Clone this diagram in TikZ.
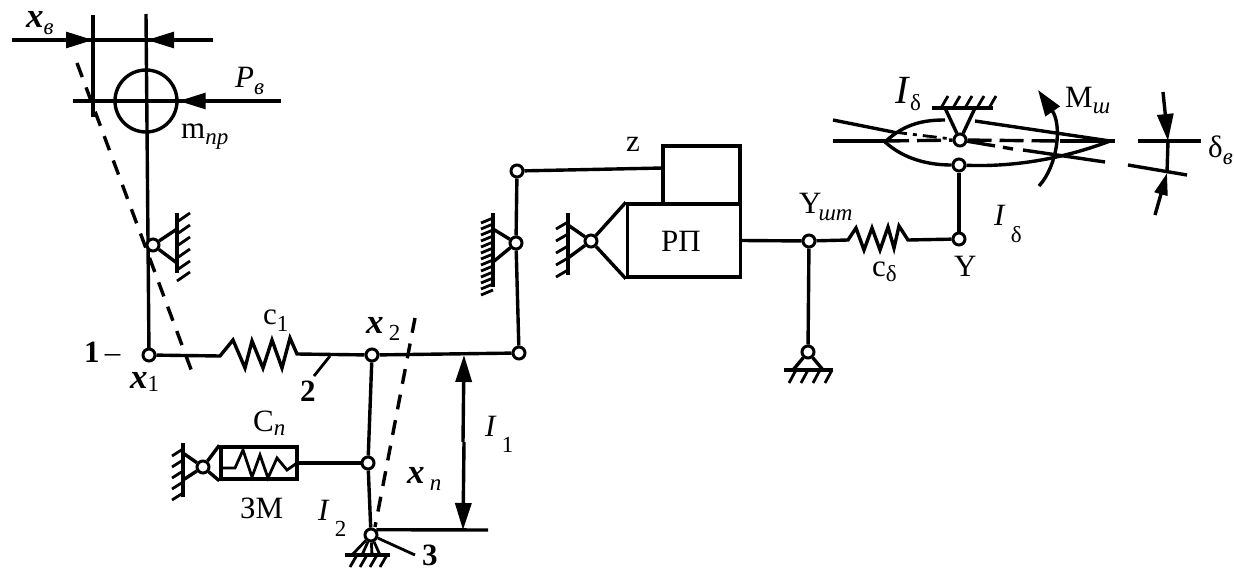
\documentclass[tikz,border=0pt]{standalone}
\usepackage{fontspec}
\setmainfont{Liberation Serif}
\usetikzlibrary{arrows.meta}
\newcommand{\lowsub}[2]{\raisebox{-#1pt}{\fontsize{23}{23}\selectfont #2}}
\newcommand{\xvar}{{\fontsize{35}{35}\selectfont\textbf{\textit{x}}}}
\tikzset{
	link/.style={line width=3.4pt},
	thinlink/.style={line width=2.8pt},
	dashlink/.style={line width=3.4pt, dash pattern=on 15pt off 11pt},
	hinge/.style={circle, draw, line width=3pt, fill=white, minimum size=12pt, inner sep=0pt},
	lab/.style={anchor=base west, inner sep=0pt, font=\fontsize{31}{31}\selectfont},
	tip/.style={-{Triangle[length=27pt, width=16pt]}}
}
\begin{document}
\begin{tikzpicture}[x=1pt, y=-1pt]
	\useasboundingbox (0,0) rectangle (1234,573);

	% mass and its rod
	\coordinate (masstop) at (146,14);
	\node[circle, draw, line width=3.4pt, minimum size=62pt, inner sep=0pt] (mass) at (146,101) {};
	\draw[link] (93,15) -- (93,117);
	\draw[link] (12,40) -- (213,40);
	\draw[link] (73,101) -- (281,101);
	\draw[thinlink, tip] (60,40) -- (93,40);
	\draw[thinlink, tip] (213,40) -- (147,40);
	\draw[thinlink, tip] (281,101) -- (mass.east);
	\draw[dashlink] (77,63) -- (192,372);
	\draw[link] (masstop) -- (149,355);

	% hinges
	\node[hinge] (pivotmass) at (153,245) {};
	\node[hinge] (xone) at (149,355) {};
	\node[hinge] (xtwo) at (372,355) {};
	\node[hinge] (leverend) at (519,353) {};
	\node[hinge] (levertop) at (517,171) {};
	\node[hinge] (levermid) at (516,243) {};
	\node[hinge] (pivotrp) at (591,241) {};
	\node[hinge] (yrod) at (809,241) {};
	\node[hinge] (yend) at (959,239) {};
	\node[hinge] (groundrod) at (808,352) {};
	\node[hinge] (horn) at (959,165) {};
	\node[hinge] (pivotwing) at (960,140) {};
	\node[hinge] (xn) at (368,463) {};
	\node[hinge] (groundbase) at (371,535) {};
	\node[hinge] (pivotzm) at (203,467) {};

	% wall at the upper pivot
	\draw[link] (pivotmass) -- (177,229) (pivotmass) -- (177,263);
	\draw[link] (177,213) -- (177,273);
	\foreach \y in {222,234,246,258,270,281}
	{
		\draw[thinlink] (177,\y) -- ++(13,-9);
	}

	% input link with spring
	\draw[link] (xone) -- (220,356) -- (233,340) -- (245,368) -- (252,341) -- (263,368) -- (272,340) -- (282,368) -- (290,338) -- (297,354) -- (xtwo);
	\draw[link] (xtwo) -- (leverend);
	\draw[thinlink] (330,356) -- (314,376);

	% output lever
	\draw[link] (leverend) -- (levermid) -- (levertop);
	\draw[link] (levertop) -- (663,168);
	\draw[link] (levermid) -- (493,229) (levermid) -- (493,262);
	\draw[link] (493,213) -- (493,287);
	\foreach \y in {218,224,230,236,242,248,254,260,266,272,278,284,290}
	{
		\draw[thinlink] (493,\y) -- ++(-12,5);
	}

	% actuator
	\node[draw, line width=3.4pt, minimum width=77pt, minimum height=58pt, inner sep=0pt] (zbox) at (701.5,175) {};
	\node[draw, line width=3.4pt, minimum width=113pt, minimum height=73pt, inner sep=0pt] (rp) at (684,240.5) {};
	\draw[link] (pivotrp) -- (rp.north west) (pivotrp) -- (rp.south west);
	\draw[link] (pivotrp) -- (568,225) (pivotrp) -- (568,258);
	\draw[link] (568,213) -- (568,275);
	\foreach \y in {222,234,246,258,270}
	{
		\draw[thinlink] (568,\y) -- ++(-12,7);
	}

	% output rod and spring to the horn
	\draw[link] (rp.east) -- (yrod);
	\draw[link] (yrod) -- (848,240) -- (856,228) -- (864,250) -- (872,228) -- (880,250) -- (888,227) -- (894,248) -- (899,226) -- (908,240) -- (yend);
	\draw[link] (yrod) -- (groundrod);
	\draw[link] (yend) -- (horn);
	\draw[link] (groundrod) -- (793,370) (groundrod) -- (823,370);
	\draw[link] (784,370) -- (833,370);
	\foreach \x in {796,808,820,832}
	{
		\draw[thinlink] (\x,370) -- ++(-7,13);
	}

	% vertical lever and feel unit
	\draw[link] (xtwo) -- (xn) -- (groundbase);
	\draw[link] (groundbase.45) -- (488,530);
	\draw[link, tip] (463,442) -- (464,355);
	\draw[link, tip] (464,442) -- (463,530);
	\draw[dashlink] (415,318) -- (375,527);
	\node[draw, line width=3.4pt, minimum width=76pt, minimum height=32pt, inner sep=0pt] (zm) at (259,463) {};
	\draw[link] (zm.east) -- (xn);
	\draw[link] (pivotzm) -- (zm.north west) (pivotzm) -- (zm.south west);
	\draw[link] (pivotzm) -- (183,453) (pivotzm) -- (183,480);
	\draw[link] (183,443) -- (183,497);
	\foreach \y in {449,460,471,482,493}
	{
		\draw[thinlink] (183,\y) -- ++(-11,7);
	}
	\draw[thinlink] (223,468) -- (235,468) -- (243,450) -- (252,477) -- (260,455) -- (268,478) -- (277,458) -- (287,470) -- (297,463);

	% lower ground
	\draw[link] (345,555) -- (390,555);
	\foreach \x in {352,362,372,380}
	{
		\draw[thinlink] (groundbase) -- (\x,555);
	}
	\foreach \x in {357,367,377,387}
	{
		\draw[thinlink] (\x,555) -- ++(-7,12);
	}
	\draw[thinlink] (groundbase) -- (415,555);

	% wing
	\draw[link] (885,142) .. controls (905,123) and (925,120) .. (945,120);
	\draw[link] (885,142) .. controls (905,160) and (930,165) .. (horn);
	\draw[link] (horn) .. controls (1010,167) and (1060,160) .. (1110,141);
	\draw[link] (975,121) -- (1110,141);
	\draw[link] (833,141) -- (885,141);
	\draw[link, dash pattern=on 24pt off 8pt] (885,141) -- (pivotwing);
	\draw[link, dash pattern=on 24pt off 8pt] (pivotwing) -- (1060,141);
	\draw[link] (1060,141) -- (1115,141);
	\draw[link] (833,120) -- (893,132);
	\draw[thinlink, dash pattern=on 14pt off 6pt on 4pt off 6pt] (893,132) -- (pivotwing);
	\draw[link, dash pattern=on 28pt off 8pt] (pivotwing) -- (1013,149);
	\draw[link] (1023,150) -- (1105,162);
	\draw[link] (pivotwing) -- (945,108) (pivotwing) -- (975,108);
	\draw[link] (932,108) -- (993,108);
	\foreach \x in {941,953,965,977,989}
	{
		\draw[thinlink] (\x,108) -- ++(7,-12);
	}
	\draw[link, -{Triangle[length=26pt, width=17pt]}] (1039,186) .. controls (1058,165) and (1062,125) .. (1038,90);

	% elevator deflection
	\draw[link] (1138,141) -- (1201,141);
	\draw[link] (1128,165) -- (1187,175);
	\draw[link, tip] (1163,92) -- (1168,141);
	\draw[link] (1168,141) -- (1167,173);
	\draw[link, -{Triangle[length=22pt, width=13pt]}] (1155,215) -- (1167,173);

	% labels
	\node[lab] (lbxv) at (26,27) {\xvar\lowsub{7}{\textit{в}}};
	\node[lab] (lbpv) at (235,87) {\textit{P}\lowsub{7}{\textit{в}}};
	\node[lab] (lbm) at (181,138) {m\lowsub{6}{\textit{пр}}};
	\node[lab] (lbone) at (84,362) {\textbf{1}\,–};
	\node[lab] (lbxone) at (130,388) {\xvar\lowsub{3}{1}};
	\node[lab] (lbcone) at (263,324) {c\lowsub{7}{1}};
	\node[lab] (lbxtwo) at (366,333) {\xvar\,\lowsub{7}{2}};
	\node[lab] (lbtwo) at (300,401) {\textbf{2}};
	\node[lab] (lbcn) at (253,431) {C\lowsub{4}{\textit{п}}};
	\node[lab] (lbzm) at (240,518) {ЗМ};
	\node[lab] (lbxn) at (407,483) {\xvar\,\lowsub{7}{\textit{п}}};
	\node[lab] (lbitwo) at (318,520) {\textit{I}\,\lowsub{16}{2}};
	\node[lab] (lbione) at (485,436) {\textit{I}\,\lowsub{16}{1}};
	\node[lab] (lbthree) at (422,565) {\textbf{3}};
	\node[lab] (lbz) at (626,151) {z};
	\node[lab] (lbrp) at (661,251) {РП};
	\node[lab] (lbyrod) at (799,213) {Y\kern-3pt\lowsub{7}{\textit{шт}}};
	\node[lab] (lbcd) at (872,276) {c\lowsub{5}{δ}};
	\node[lab] (lby) at (954,276) {Y};
	\node[lab] (lbidlow) at (994,225) {\textit{I}\,\lowsub{17}{δ}};
	\node[lab] (lbidup) at (895,103) {{\fontsize{40}{40}\selectfont\textit{I}}\lowsub{7}{δ}};
	\node[lab] (lbmsh) at (1065,107) {M\lowsub{6}{\textit{ш}}};
	\node[lab] (lbdv) at (1208,157) {δ\lowsub{7}{\textit{в}}};
\end{tikzpicture}
\end{document}
